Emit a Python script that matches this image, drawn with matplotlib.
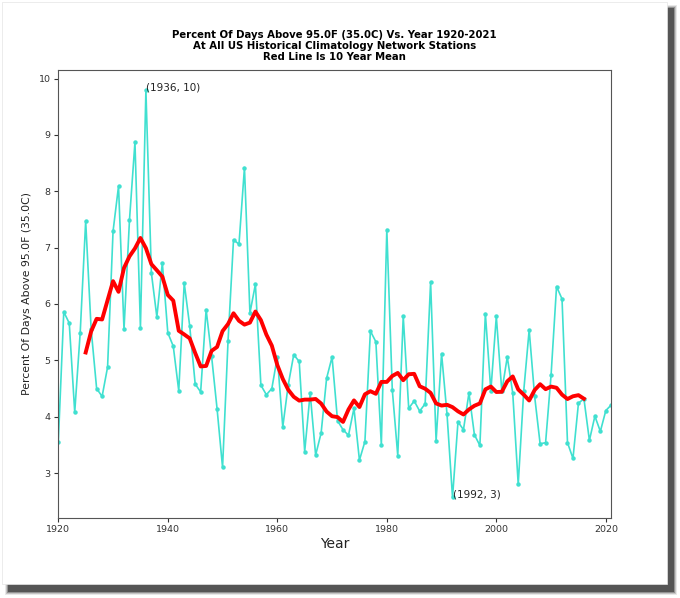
import numpy as np
import matplotlib
matplotlib.use('Agg')
import matplotlib.pyplot as plt
from matplotlib.patches import Rectangle

# ---- data ----
years = np.arange(1920, 2022)
pct = [
    3.55, 5.86, 5.66, 4.08, 5.49, 7.47, 5.55, 4.50, 4.36, 4.88,   # 1920s
    7.29, 8.09, 5.55, 7.49, 8.87, 5.58, 9.79, 6.55, 5.77, 6.73,   # 1930s
    5.49, 5.25, 4.46, 6.37, 5.61, 4.58, 4.44, 5.90, 5.07, 4.14,   # 1940s
    3.10, 5.34, 7.14, 7.06, 8.42, 5.84, 6.35, 4.56, 4.39, 4.50,   # 1950s
    5.06, 3.82, 4.57, 5.10, 4.98, 3.38, 4.42, 3.32, 3.71, 4.68,   # 1960s
    5.06, 3.93, 3.77, 3.67, 4.15, 3.23, 3.56, 5.52, 5.33, 3.50,   # 1970s
    7.32, 4.48, 3.31, 5.78, 4.15, 4.28, 4.10, 4.23, 6.39, 3.57,   # 1980s
    5.12, 4.04, 2.57, 3.91, 3.77, 4.42, 3.68, 3.49, 5.83, 4.46,   # 1990s
    5.78, 4.45, 5.06, 4.42, 2.80, 4.45, 5.54, 4.36, 3.52, 3.54,   # 2000s
    4.74, 6.31, 6.09, 3.54, 3.26, 4.24, 4.32, 3.58, 4.01, 3.74,   # 2010s
    4.11, 4.21,                                                   # 2020-2021
]
pct = np.array(pct)

notes = [(1936, 9.79, '(1936, 10)'), (1992, 2.57, '(1992, 3)')]
xticks = [1920, 1940, 1960, 1980, 2000, 2020]

# 10 year mean, plotted at the middle of each window (last window 2011-2020)
mean10 = np.convolve(pct, np.ones(10) / 10, mode='valid')
mean_years = years[5:97]
mean10 = mean10[:len(mean_years)]

W, H = 680, 598
fig = plt.figure(figsize=(W / 100, H / 100), dpi=100)
fig.patch.set_facecolor('white')

# page with drop shadow
def px_rect(x0, y0, x1, y1, **kw):
    return Rectangle((x0 / W, 1 - y1 / H), (x1 - x0) / W, (y1 - y0) / H,
                     transform=fig.transFigure, **kw)

for i, a in enumerate([0.10, 0.18, 0.30, 0.55]):
    d = 3 - i
    fig.patches.append(px_rect(8 - d, 8 - d, 674 + d, 592 + d,
                               facecolor='#222222', edgecolor='none', alpha=a, zorder=0))
fig.patches.append(px_rect(2, 2, 667, 584, facecolor='white',
                           edgecolor='#e4e4e4', linewidth=0.5, zorder=1))

ax = fig.add_axes([58.3 / W, 1 - 517.7 / H, (611.3 - 58.3) / W, (517.7 - 70) / H])
ax.set_zorder(2)

ax.plot(years, pct, color='turquoise', linewidth=1.2, marker='o', markersize=2.2)
ax.plot(mean_years, mean10, color='red', linewidth=2.8)

for x, y, t in notes:
    ax.annotate(t, xy=(x, y), fontsize=7.5, color='#222222')

ax.set_xlim(1920, 2021)
ax.set_xticks(xticks)
ax.set_yticks(range(3, 11))
ax.tick_params(labelsize=6.8, colors='#333333', length=3, pad=2.5)
for s in ax.spines.values():
    s.set_color('#555555')

ax.set_xlabel('Year', fontsize=10, color='#222222', labelpad=2)
ax.set_ylabel('Percent Of Days Above 95.0F (35.0C)', fontsize=7.8, color='#222222',
              labelpad=5)
ax.set_title('Percent Of Days Above 95.0F (35.0C) Vs. Year 1920-2021\n'
             'At All US Historical Climatology Network Stations\n'
             'Red Line Is 10 Year Mean',
             fontsize=7.3, fontweight='bold', pad=7, linespacing=1.15)

fig.savefig('out.png', dpi=100)
